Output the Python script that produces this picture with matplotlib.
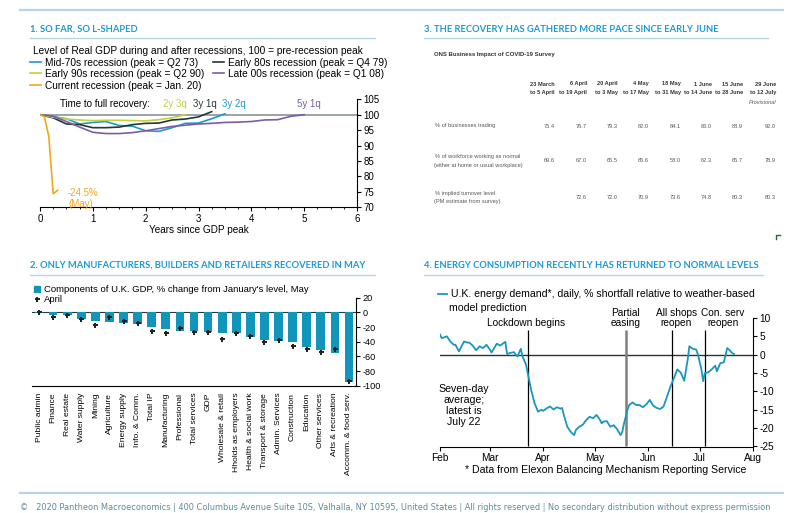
import numpy as np
import matplotlib.pyplot as plt
from matplotlib.lines import Line2D
from matplotlib.patches import Patch

plt.rcParams['font.family'] = ['Liberation Sans', 'DejaVu Sans']
plt.rcParams['axes.unicode_minus'] = False

W, H = 798, 513


def fx(x):
    return x / W


def fy(y):
    return 1 - y / H


# ---- panel 1: GDP in recessions (quarterly, current is monthly)
mid70 = [100, 99.4, 98.7, 97.0, 97.5, 97.8, 96.5, 96.3, 94.8, 94.6, 95.8, 97.2, 97.3, 98.7, 100.3]
early80 = [100, 99.0, 97.0, 96.8, 95.8, 95.8, 96.0, 96.8, 97.2, 97.3, 98.3, 98.6, 99.3, 101.0]
early90 = [100, 99.2, 98.6, 98.3, 98.1, 98.2, 98.2, 98.1, 98.0, 98.4, 99.0, 100.0]
late00 = [100, 99.5, 97.8, 96.0, 94.3, 93.9, 93.9, 94.2, 94.8, 95.5, 96.2, 96.6, 97.0, 97.2,
          97.5, 97.6, 97.8, 98.3, 98.4, 99.5, 100.0]
current = [100, 99.4, 92.9, 74.4, 75.5]

# ---- panel 2: GDP components
sectors = ["Public admin", "Finance", "Real estate", "Water supply", "Mining", "Agriculture",
           "Energy supply", "Info. & Comm.", "Total IP", "Manufacturing", "Professional",
           "Total services", "GDP", "Wholesale & retail", "Hholds as employers",
           "Health & social work", "Transport & storage", "Admin. Services", "Construction",
           "Education", "Other services", "Arts & recreation", "Accomm. & food serv."]
may_chg = [-0.5, -3.6, -3.0, -9.0, -11.5, -12.8, -14.0, -16.0, -19.5, -22.7, -25.0, -26.0,
           -26.5, -28.0, -28.6, -34.0, -38.0, -39.0, -40.5, -47.0, -51.0, -55.0, -94.5]
apr_chg = [0.5, -6.0, -3.6, -9.0, -17.0, -7.0, -12.0, -14.5, -25.0, -28.6, -22.0, -26.4,
           -27.0, -36.0, -28.0, -32.0, -41.0, -38.0, -46.0, -49.5, -53.6, -50.0, -93.6]

# ---- panel 3: ONS survey table
col_top = ["23 March", "6 April", "20 April", "4 May", "18 May", "1 June", "15 June", "29 June"]
col_bot = ["to 5 April", "to 19 April", "to 3 May", "to 17 May", "to 31 May", "to 14 June",
           "to 28 June", "to 12 July"]
row_labels = [["% of businesses trading"],
              ["% of workforce working as normal", "(either at home or usual workplace)"],
              ["% implied turnover level", "(PM estimate from survey)"]]
trading = ["75.4", "76.7", "79.3", "82.0", "84.1", "86.0", "88.9", "92.0"]
workforce = ["69.6", "67.0", "65.5", "65.6", "58.0", "62.3", "65.7", "78.9"]
turnover = ["", "72.6", "72.0", "70.9", "73.6", "74.8", "80.3", "80.3"]

# ---- panel 4: energy demand shortfall, days since Feb 1
energy_day = [0, 1, 4, 6, 8, 9, 11, 14, 16, 17, 19, 21, 23, 25, 27, 29, 30, 33, 35, 38, 39, 41,
              43, 45, 47, 48, 50, 51, 53, 55, 57, 59, 60, 62, 64, 66, 68, 70, 71, 72, 74, 76,
              78, 79, 81, 83, 85, 87, 89, 91, 93, 94, 95, 97, 99, 101, 103, 105, 106, 107,
              109, 110, 112, 114, 116, 118, 120, 122, 124, 126, 128, 130, 132, 134, 136, 138,
              140, 142, 144, 145, 147, 149, 150, 152, 153, 154, 156, 158, 160, 161, 163, 165,
              167, 168, 170, 171]
energy_val = [5.5, 4.5, 5.0, 3.6, 2.7, 2.7, 0.9, 3.6, 3.3, 3.3, 2.5, 1.2, 2.3, 1.8, 2.7, 1.4,
              0.6, 3.0, 2.5, 3.5, 0.2, 0.5, 0.7, -0.5, 1.6, -0.5, -2.7, -5.0, -9.6, -13.2,
              -15.5, -15.0, -15.3, -14.6, -14.1, -14.9, -14.3, -14.7, -14.5, -16.4, -19.6,
              -21.0, -21.9, -20.5, -19.6, -19.1, -17.8, -16.9, -17.3, -16.4, -17.7, -18.7,
              -18.2, -18.1, -19.6, -19.2, -20.3, -21.9, -21.0, -18.7, -15.0, -13.7, -13.0,
              -13.7, -13.7, -14.3, -13.5, -12.3, -13.9, -14.5, -14.8, -14.1, -11.4, -8.7,
              -6.4, -4.0, -4.9, -7.1, -1.4, 2.3, 1.6, 1.4, 0.0, -4.0, -7.2, -5.0, -4.8, -4.0,
              -3.0, -4.5, -2.3, -2.1, 1.8, 1.4, 0.4, 0.2]
months = ["Feb", "Mar", "Apr", "May", "Jun", "Jul", "Aug"]
events = ["Lockdown begins", "Partial\neasing", "All shops\nreopen", "Con. serv\nreopen"]
event_dates = ["2020-03-23", "2020-05-19", "2020-06-15", "2020-07-04"]
label_shift = [-1, 0, 2.3, 10.5]   # days, label centre relative to its line

TITLE_BLUE = "#1a9ad6"
RULE = "#b7d6e5"
C70, C80, C90, C00, CNOW = "#1a9bc7", "#26363a", "#c5d13a", "#7a5ca8", "#f0a81a"
BAR = "#1295bb"
DARK = "#222222"

fig = plt.figure(figsize=(W / 100, H / 100), dpi=100)

# page rules and titles
for y in (10, 493):
    fig.add_artist(Line2D([fx(20), fx(783)], [fy(y), fy(y)], color=RULE, lw=1.6))
titles = [("1. SO FAR, SO L-SHAPED", 30, 29, 375, 38),
          ("3. THE RECOVERY HAS GATHERED MORE PACE SINCE EARLY JUNE", 424, 29, 768, 38),
          ("2. ONLY MANUFACTURERS, BUILDERS AND RETAILERS RECOVERED IN MAY", 30, 265, 375, 275),
          ("4. ENERGY CONSUMPTION RECENTLY HAS RETURNED TO NORMAL LEVELS", 424, 265, 763, 275)]
for txt, x, y, x2, yl in titles:
    fig.text(fx(x), fy(y), txt, color=TITLE_BLUE, fontsize=6.75, fontweight="bold",
             family=["Lato", "DejaVu Sans"], va="center", ha="left")
    fig.add_artist(Line2D([fx(x), fx(x2)], [fy(yl), fy(yl)], color=RULE, lw=1.0))

fig.text(fx(20), fy(507), "\u00a9   2020 Pantheon Macroeconomics | 400 Columbus Avenue Suite 10S, "
         "Valhalla, NY 10595, United States | All rights reserved | No secondary distribution "
         "without express permission", color="#5f8aa0", fontsize=5.95,
         family=["DejaVu Sans"], va="center", ha="left")

# ---------------- panel 1
ax1 = fig.add_axes([fx(40), fy(207.3), fx(357) - fx(40), fy(99.3) - fy(207.3)])
ax1.axhline(100, color="#8a9496", lw=1.2, zorder=1)
l70, = ax1.plot(np.arange(len(mid70)) * 0.25, mid70, color=C70, lw=1.2)
l80, = ax1.plot(np.arange(len(early80)) * 0.25, early80, color=C80, lw=1.2)
l90, = ax1.plot(np.arange(len(early90)) * 0.25, early90, color=C90, lw=1.2)
l00, = ax1.plot(np.arange(len(late00)) * 0.25, late00, color=C00, lw=1.2)
lnow, = ax1.plot(np.arange(len(current)) / 12, current, color=CNOW, lw=1.2)
ax1.set_xlim(0, 6)
ax1.set_ylim(70, 105)
ax1.set_xticks(range(7))
ax1.set_xticks(np.arange(0, 6.01, 0.25), minor=True)
ax1.set_yticks(range(70, 106, 5))
ax1.yaxis.tick_right()
for s in ("top", "left"):
    ax1.spines[s].set_visible(False)
ax1.tick_params(labelsize=7, length=3, width=0.8, pad=1.5)
ax1.tick_params(which="minor", length=1.5, width=0.6)
ax1.set_xlabel("Years since GDP peak", fontsize=7.2, labelpad=1)
fig.text(fx(33), fy(51), "Level of Real GDP during and after recessions, 100 = pre-recession peak",
         fontsize=7.3, va="center", ha="left")
ax1.legend([l70, l90, lnow, l80, l00],
           ["Mid-70s recession (peak = Q2 73)", "Early 90s recession (peak = Q2 90)",
            "Current recession (peak = Jan. 20)", "Early 80s recession (peak = Q4 79)",
            "Late 00s recession (peak = Q1 08)"],
           ncol=2, loc="upper left", bbox_to_anchor=(fx(30), fy(57.5)),
           bbox_transform=fig.transFigure, frameon=False, fontsize=7.3, handlelength=1.1,
           handletextpad=0.4, columnspacing=0.8, labelspacing=0.15, borderpad=0, borderaxespad=0)
ax1.text(0.38, 103.6, "Time to full recovery:", fontsize=7, va="center", ha="left")
for lab, xs, col in [("2y 3q", 2.33, C90), ("3y 1q", 2.9, C80), ("3y 2q", 3.44, C70),
                     ("5y 1q", 4.86, C00)]:
    ax1.text(xs, 103.6, lab, fontsize=7, va="center", ha="left", color=col)
ax1.text(0.53, 72.8, "-24.5%\n(May)", fontsize=7, va="center", ha="left", color=CNOW,
         linespacing=1.1)

# ---------------- panel 2
ax2 = fig.add_axes([fx(32), fy(385.7), fx(356) - fx(32), fy(297.7) - fy(385.7)])
xpos = np.arange(len(sectors))
ax2.bar(xpos, may_chg, width=0.62, color=BAR, zorder=2)
ax2.plot(xpos, apr_chg, ls="none", marker="P", ms=3.6, color=DARK, mew=0, zorder=3)
ax2.axhline(0, color="#333333", lw=0.8, zorder=1)
ax2.set_xlim(-0.5, len(sectors) - 0.5)
ax2.set_ylim(-100, 20)
ax2.set_yticks(range(-100, 21, 20))
ax2.yaxis.tick_right()
ax2.set_xticks(xpos)
ax2.set_xticklabels(sectors, rotation=90, fontsize=6.1)
ax2.tick_params(axis="x", length=0, pad=5)
ax2.tick_params(axis="y", labelsize=6.6, length=3, width=0.8, pad=1.5)
for s in ("top", "left"):
    ax2.spines[s].set_visible(False)
ax2.legend([Patch(color=BAR), Line2D([], [], ls="none", marker="P", ms=3.6, color=DARK, mew=0)],
           ["Components of U.K. GDP, % change from January's level, May", "April"],
           loc="upper left", bbox_to_anchor=(fx(34), fy(285)), bbox_transform=fig.transFigure,
           frameon=False, fontsize=6.8, handlelength=0.6, handleheight=0.6, handletextpad=0.5,
           labelspacing=0.1, borderpad=0, borderaxespad=0)

# ---------------- panel 3 (table)
fig.text(fx(434), fy(55), "ONS Business Impact of COVID-19 Survey", fontsize=4.3,
         fontweight="bold", color="#333333", va="center", ha="left")
col_x = [555, 587, 618, 649, 681, 712, 743, 776]
for cx, t, b in zip(col_x, col_top, col_bot):
    fig.text(fx(cx), fy(84), t, fontsize=4.1, fontweight="bold", color="#333333",
             va="center", ha="right")
    fig.text(fx(cx), fy(92.5), b, fontsize=4.1, fontweight="bold", color="#333333",
             va="center", ha="right")
fig.text(fx(776), fy(102), "Provisional", fontsize=4.1, style="italic", color="#555555",
         va="center", ha="right")
row_y = [126, 161, 197.5]
for ry, labs, vals in zip(row_y, row_labels, [trading, workforce, turnover]):
    if len(labs) == 1:
        fig.text(fx(435), fy(ry), labs[0], fontsize=4.1, color="#555555", va="center")
    else:
        fig.text(fx(435), fy(ry - 4.3), labs[0], fontsize=4.1, color="#555555", va="center")
        fig.text(fx(434), fy(ry + 4.3), labs[1], fontsize=4.1, color="#555555", va="center")
    for cx, v in zip(col_x, vals):
        fig.text(fx(cx), fy(ry), v, fontsize=4.1, color="#555555", va="center", ha="right")
fig.add_artist(Line2D([fx(780), fx(775.5), fx(775.5)], [fy(235), fy(235), fy(238.5)],
                      color="#1e6b3a", lw=1.0))

# ---------------- panel 4
ax4 = fig.add_axes([fx(440), fy(446.5), fx(753) - fx(440), fy(318) - fy(446.5)])
base = np.datetime64("2020-02-01")
month_starts = [np.datetime64(f"2020-{m:02d}-01") for m in range(2, 9)]
month_pos = [(d - base).astype(int) for d in month_starts]
ax4.axhline(0, color="#26363a", lw=1.0, zorder=1)
ax4.plot(energy_day, energy_val, color="#1a96c0", lw=1.3, zorder=3)
for lab, d, sh in zip(events, event_dates, label_shift):
    xd = (np.datetime64(d) - base).astype(int)
    grey = lab.startswith("Partial")
    ax4.vlines(xd, -25, 6.8, color="#7f7f7f" if grey else "black", lw=1.8 if grey else 0.9,
               zorder=2)
    ax4.text(xd + sh, 7.3, lab, fontsize=7.3, ha="center", va="bottom", linespacing=1.05)
ax4.set_xlim(0, month_pos[-1])
ax4.set_ylim(-25, 10)
ax4.set_xticks(month_pos)
ax4.set_xticklabels(months)
ax4.set_yticks(range(-25, 11, 5))
ax4.yaxis.tick_right()
for s in ("top", "left"):
    ax4.spines[s].set_visible(False)
ax4.tick_params(labelsize=7.3, length=3, width=0.8, pad=1.5)
ax4.text(14, -13.8, "Seven-day\naverage;\nlatest is\nJuly 22", fontsize=7.6, ha="center",
         va="center", linespacing=1.15)
fig.add_artist(Line2D([fx(438), fx(447)], [fy(294), fy(294)], color="#1a96c0", lw=1.3))
fig.text(fx(451), fy(294), "U.K. energy demand*, daily, % shortfall relative to weather-based",
         fontsize=7.6, va="center", ha="left")
fig.text(fx(449), fy(308), "model prediction", fontsize=7.6, va="center", ha="left")
fig.text(fx(606), fy(470), "* Data from Elexon Balancing Mechanism Reporting Service",
         fontsize=7.6, va="center", ha="center")

fig.savefig("out.png", dpi=100)
